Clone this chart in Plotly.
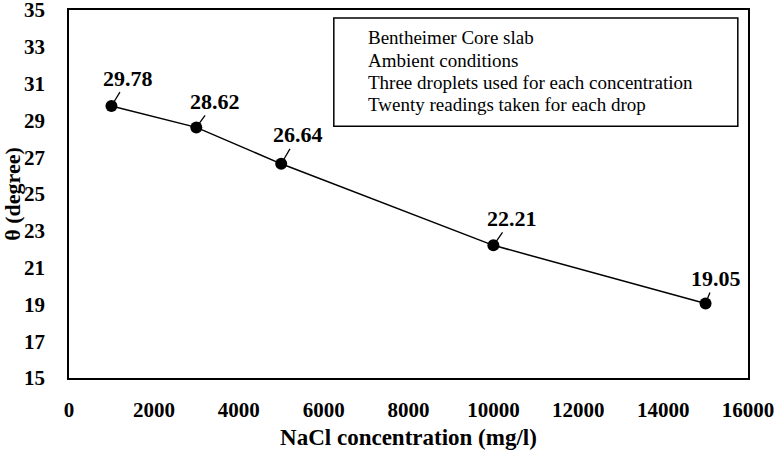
import plotly.graph_objects as go

nacl = [1000, 3000, 5000, 10000, 15000]
theta = [29.78, 28.62, 26.64, 22.21, 19.05]
labels = ["29.78", "28.62", "26.64", "22.21", "19.05"]
label_dx = [17, 19, 17, 19, 10]
label_dy = [-28, -26, -29, -27, -25]
notes = [
    "Bentheimer Core slab",
    "Ambient conditions",
    "Three droplets used for each concentration",
    "Twenty readings taken for each drop",
]

FONT = "Liberation Serif"

fig = go.Figure()
fig.add_trace(go.Scatter(
    x=nacl, y=theta, mode="lines+markers",
    line=dict(color="black", width=1.5),
    marker=dict(color="black", size=12),
    showlegend=False, hoverinfo="skip",
))

for xv, yv, t, dx, dy in zip(nacl, theta, labels, label_dx, label_dy):
    fig.add_annotation(
        x=xv, y=yv, text=f"<b>{t}</b>", showarrow=True,
        ax=dx, ay=dy, arrowhead=0, arrowwidth=1.3, arrowcolor="black",
        standoff=5,
        font=dict(family=FONT, size=22, color="black"),
    )

# info box
fig.add_shape(type="rect", xref="paper", yref="paper",
              x0=0.390, x1=0.985, y0=0.684, y1=0.978,
              line=dict(color="black", width=1.5), fillcolor="white", layer="above")
note_y = [0.9255, 0.8625, 0.802, 0.744]
for t, yy in zip(notes, note_y):
    fig.add_annotation(
        xref="paper", yref="paper", x=0.437, y=yy, text=t,
        showarrow=False, xanchor="left", yanchor="middle",
        font=dict(family=FONT, size=19, color="black"),
    )

axis_common = dict(
    showgrid=False, zeroline=False, showline=True, linecolor="black",
    linewidth=1.5, mirror=True, ticks="", automargin=False,
    ticklabeloverflow="allow",
    tickfont=dict(family=FONT, size=21, color="black"),
)

fig.update_xaxes(
    range=[0, 16000], tickvals=list(range(0, 16001, 2000)),
    ticktext=[f"<b>{v}</b>" for v in range(0, 16001, 2000)],
    ticklabelstandoff=12,
    title=dict(text="<b>NaCl concentration (mg/l)</b>", standoff=8,
               font=dict(family=FONT, size=23, color="black")),
    **axis_common,
)
fig.update_yaxes(
    range=[15, 35], tickvals=list(range(15, 36, 2)),
    ticktext=[f"<b>{v}</b>" for v in range(15, 36, 2)],
    ticklabelstandoff=18,
    title=dict(text="<b>θ (degree)</b>", standoff=6,
               font=dict(family=FONT, size=22, color="black")),
    **axis_common,
)

fig.update_layout(
    width=776, height=450,
    margin=dict(l=69, r=28, t=10, b=72, autoexpand=False),
    paper_bgcolor="white", plot_bgcolor="white",
)

fig.write_html("out.html", config={"displayModeBar": False},
               post_script="document.body.style.margin='0px';")
